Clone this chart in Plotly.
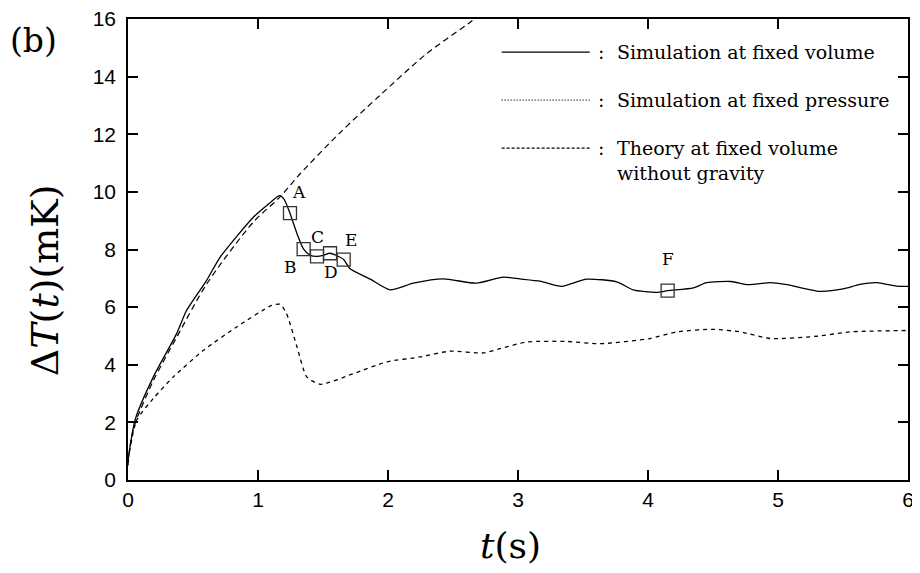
import plotly.graph_objects as go

# ---- data ----
t_vol = [0, 0.054, 0.195, 0.374, 0.451, 0.605, 0.708, 0.964, 1.10, 1.164, 1.20, 1.246, 1.30, 1.351,
         1.40, 1.454, 1.50, 1.554, 1.60, 1.659, 1.708, 1.86, 2.015, 2.195, 2.426, 2.68, 2.887, 3.015,
         3.17, 3.336, 3.528, 3.759, 3.887, 4.067, 4.151, 4.349, 4.451, 4.64, 4.77, 4.94, 5.07, 5.32,
         5.50, 5.63, 5.76, 5.91, 6.0]
y_vol = [0.69, 2.08, 3.58, 5.08, 5.89, 6.93, 7.73, 9.12, 9.65, 9.87, 9.75, 9.26, 8.55, 8.01,
         7.80, 7.76, 7.80, 7.87, 7.80, 7.65, 7.33, 6.98, 6.60, 6.83, 6.98, 6.83, 7.04, 6.98,
         6.90, 6.72, 6.97, 6.88, 6.60, 6.51, 6.57, 6.67, 6.85, 6.89, 6.78, 6.85, 6.78, 6.55,
         6.63, 6.79, 6.85, 6.73, 6.72]

t_pres = [0, 0.067, 0.195, 0.349, 0.58, 0.836, 1.105, 1.17, 1.22, 1.30, 1.375, 1.48, 1.733, 1.99,
          2.246, 2.477, 2.733, 2.862, 3.07, 3.37, 3.63, 4.015, 4.22, 4.50, 4.71, 4.94, 5.30, 5.55, 6.0]
y_pres = [0.69, 2.08, 2.83, 3.58, 4.50, 5.31, 6.06, 6.10, 5.77, 4.62, 3.58, 3.32, 3.69, 4.10,
          4.27, 4.47, 4.41, 4.56, 4.79, 4.81, 4.73, 4.91, 5.14, 5.23, 5.14, 4.91, 4.99, 5.14, 5.19]

t_theory = [0, 0.02, 0.054, 0.195, 0.374, 0.605, 0.964, 1.164, 1.323, 1.63, 1.938, 2.298, 2.644, 2.70]
y_theory = [0.5, 1.3, 1.95, 3.45, 4.95, 6.8, 8.95, 9.80, 10.62, 12.05, 13.35, 14.8, 15.93, 16.15]

point_labels = ["A", "B", "C", "D", "E", "F"]
t_points = [1.246, 1.351, 1.454, 1.554, 1.659, 4.151]
y_points = [9.26, 8.01, 7.76, 7.87, 7.65, 6.57]

legend_names = ["Simulation at fixed volume", "Simulation at fixed pressure",
                "Theory at fixed volume<br>without gravity"]

x_ticks = [0, 1, 2, 3, 4, 5, 6]
y_ticks = [0, 2, 4, 6, 8, 10, 12, 14, 16]

SERIF = "DejaVu Serif"
SANS = "Liberation Sans"

fig = go.Figure()
fig.add_trace(go.Scatter(x=t_vol, y=y_vol, mode="lines",
                         line=dict(color="black", width=1.3, shape="spline", smoothing=0.6)))
fig.add_trace(go.Scatter(x=t_pres, y=y_pres, mode="lines",
                         line=dict(color="black", width=1.3, dash="4px,4px", shape="spline", smoothing=0.6)))
fig.add_trace(go.Scatter(x=t_theory, y=y_theory, mode="lines",
                         line=dict(color="black", width=1.2, dash="6px,4px", shape="spline", smoothing=0.8)))
fig.add_trace(go.Scatter(x=t_points, y=y_points, mode="markers",
                         marker=dict(symbol="square-open", size=13, color="#333333",
                                     line=dict(width=1.3, color="#333333"))))

# letter labels near the markers (pixel offsets)
offsets = {"A": (9, -21), "B": (-13, 18), "C": (0, -19), "D": (1, 19), "E": (7, -20), "F": (0, -32)}
for lab, tx, ty in zip(point_labels, t_points, y_points):
    dx, dy = offsets[lab]
    fig.add_annotation(x=tx, y=ty, text=lab, showarrow=False, xshift=dx, yshift=-dy,
                       xanchor="center", yanchor="middle",
                       font=dict(family=SERIF, size=17, color="black"))

# custom legend
leg_y = [0.928, 0.824, 0.720]
leg_dash = ["solid", "1px,2px", "3px,2px"]
for name, yy, dsh in zip(legend_names, leg_y, leg_dash):
    fig.add_shape(type="line", xref="paper", yref="paper", x0=0.479, x1=0.592, y0=yy, y1=yy,
                  line=dict(color="black", width=1.2, dash=dsh))
    fig.add_annotation(xref="paper", yref="paper", x=0.600, y=yy, text=":", showarrow=False,
                       xanchor="left", yanchor="middle", font=dict(family=SERIF, size=19, color="black"))
    fig.add_annotation(xref="paper", yref="paper", x=0.624, y=yy, text=name, showarrow=False,
                       xanchor="left", yanchor="top", yshift=13, align="left",
                       font=dict(family=SERIF, size=19, color="black"))

# axis titles and panel label
fig.add_annotation(xref="paper", yref="paper", x=0.49, y=-0.141, text="<i>t</i>(s)", showarrow=False,
                   xanchor="center", yanchor="middle",
                   font=dict(family=SERIF, size=36, color="black"))
fig.add_annotation(xref="paper", yref="paper", x=-0.106, y=0.434, text="Δ<i>T</i>(<i>t</i>)(mK)",
                   showarrow=False, textangle=-90, xanchor="center", yanchor="middle",
                   font=dict(family=SERIF, size=38, color="black"))
fig.add_annotation(xref="paper", yref="paper", x=-0.1535, y=0.954, text="(b)", showarrow=False,
                   xanchor="left", yanchor="middle",
                   font=dict(family=SERIF, size=33, color="black"))

axis_common = dict(showgrid=False, zeroline=False, showline=True, linecolor="black", linewidth=1.6,
                   mirror="ticks", ticks="inside", ticklen=10, tickwidth=1.5, tickcolor="black",
                   automargin=False, ticklabeloverflow="allow",
                   tickfont=dict(family=SANS, size=21, color="black"))
fig.update_xaxes(range=[0, 6], tickvals=x_ticks, **axis_common)
fig.update_yaxes(range=[0, 16], tickvals=y_ticks, ticklabelstandoff=6, **axis_common)

# the page body adds an 8px margin, so the figure is sized/margined to compensate
fig.update_layout(width=912, height=565, showlegend=False,
                  margin=dict(l=120, r=12, t=11, b=93),
                  plot_bgcolor="white", paper_bgcolor="white")

fig.write_html("out.html")
